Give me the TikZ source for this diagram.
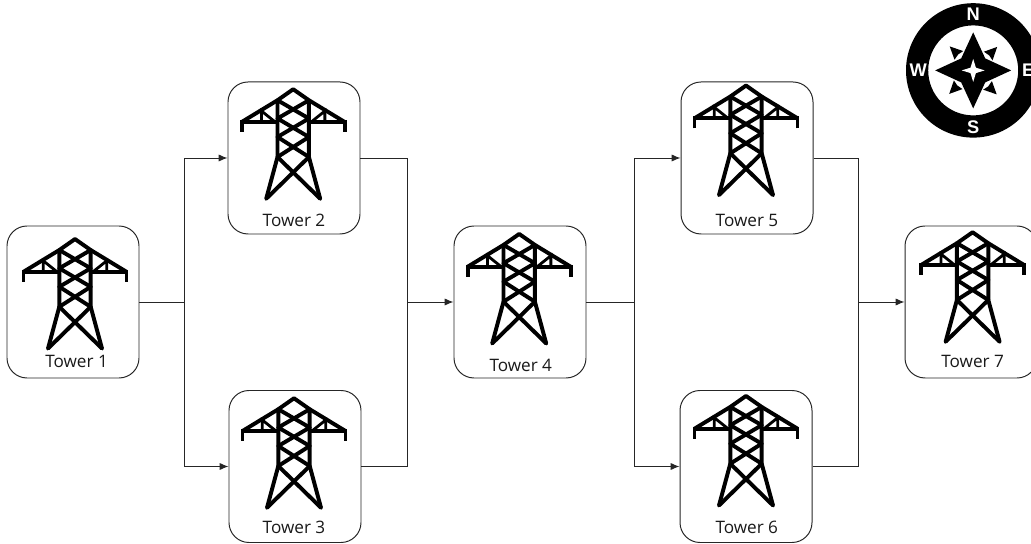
\documentclass[tikz,border=0pt]{standalone}
\usepackage{fontspec}
\setmainfont{Open Sans}
\newfontfamily\compassfont{Liberation Sans}
\usetikzlibrary{arrows.meta}
\tikzset{
	towerbox/.style={draw=black!85, line width=0.7pt, rounded corners=0.5cm, minimum width=3.3cm, minimum height=3.8cm, inner sep=0pt},
	towertext/.style={font=\fontsize{12.2}{14}\selectfont, inner sep=0pt, text=black!90},
	wire/.style={draw=black!85, line width=0.7pt},
	wirearrow/.style={wire, -{Latex[length=2.2mm,width=1.8mm]}},
	compassletter/.style={font=\compassfont\bfseries\fontsize{13}{15}\selectfont, text=white, inner sep=0pt},
	towerline/.style={line width=2.8pt, black, line join=round, x=0.025cm, y=0.025cm},
	towerstrut/.style={line width=2pt, black, x=0.025cm, y=0.025cm},
	towericon/.pic={
		% body and top diamond
		\draw [towerline] (-15.7,-13)--(-15.7,43.75)--(0,54.75)--(15.7,43.75)--(15.7,-13);
		\draw [towerline] (-15.7,43.75)--(15.7,25.5)--(-15.7,7)--(15.7,-13);
		\draw [towerline] (15.7,43.75)--(-15.7,25.5)--(15.7,7)--(-15.7,-13);
		% legs
		\draw [towerline, line cap=round] (-15.7,-13)--(-27,-54.75);
		\draw [towerline, line cap=round] (15.7,-13)--(27,-54.75);
		\draw [towerline, line cap=round] (-15.7,-13)--(27,-54.75);
		\draw [towerline, line cap=round] (15.7,-13)--(-27,-54.75);
		% arms
		\draw [towerline, line join=miter] (-51.5,12)--(-51.5,22)--(-15.7,22);
		\draw [towerline, line join=miter] (51.5,12)--(51.5,22)--(15.7,22);
		\draw [towerline] (-51.5,22)--(-15.7,43.75);
		\draw [towerline] (51.5,22)--(15.7,43.75);
		\draw [towerstrut] (-31.7,22)--(-31.7,33)--(-18,22);
		\draw [towerstrut] (31.7,22)--(31.7,33)--(18,22);
	},
}
\begin{document}
\begin{tikzpicture}
	\useasboundingbox (0,0) rectangle (25.775,13.6);
	% towers: name / centre / icon offset / label offset
	\foreach \n/\cx/\cy/\ix/\iy/\lx/\ly in {
		1/1.825/6.05/0.05/0.205/0.09/-1.49,
		2/7.35/9.65/-0.02/0.35/0/-1.57,
		3/7.375/1.9375/-0.025/0.3375/-0.025/-1.52,
		4/13/6.05/-0.02/0.3325/0.02/-1.59,
		5/18.675/9.65/-0.025/0.4425/0/-1.57,
		6/18.65/1.9375/0/0.395/0.02/-1.52,
		7/24.275/6.05/0.04/0.375/0.04/-1.49} {
		\node [towerbox] (tower\n) at (\cx,\cy) {};
		\pic at ([xshift=\ix cm,yshift=\iy cm]tower\n.center) {towericon};
		\node [towertext] (label\n) at ([xshift=\lx cm,yshift=\ly cm]tower\n.center) {Tower \n};
	}
	% junctions
	\coordinate (split1) at (4.6,6.05);
	\coordinate (join1) at (10.18,6.05);
	\coordinate (split2) at (15.85,6.05);
	\coordinate (join2) at (21.45,6.05);
	\draw [wire] (tower1.east)--(split1);
	\draw [wirearrow] (split1)|-(tower2.west);
	\draw [wirearrow] (split1)|-(tower3.west);
	\draw [wire] (tower2.east)-|(join1);
	\draw [wire] (tower3.east)-|(join1);
	\draw [wirearrow] (join1)--(tower4.west);
	\draw [wire] (tower4.east)--(split2);
	\draw [wirearrow] (split2)|-(tower5.west);
	\draw [wirearrow] (split2)|-(tower6.west);
	\draw [wire] (tower5.east)-|(join2);
	\draw [wire] (tower6.east)-|(join2);
	\draw [wirearrow] (join2)--(tower7.west);
	% compass
	\coordinate (compass) at (24.33,11.84);
	\fill [black, even odd rule] (compass) circle (1.68cm) (compass) circle (1.125cm);
	\begin{scope}[shift={(compass)}, x=0.025cm, y=0.025cm]
		\fill [black] (0,38)--(12,12)--(38,0)--(12,-12)--(0,-38)--(-12,-12)--(-38,0)--(-12,12)--cycle;
		\fill [white] (0,11.5)--(2.7,2.7)--(11.5,0)--(2.7,-2.7)--(0,-11.5)--(-2.7,-2.7)--(-11.5,0)--(-2.7,2.7)--cycle;
		\foreach \r in {0,90,180,270}
			\fill [black, rotate=\r] (24,23.5)--(10.7,18.7)--(16,15)--(19.3,10)--cycle;
	\end{scope}
	\node [compassletter] (north) at ([yshift=1.4cm]compass) {N};
	\node [compassletter] (south) at ([yshift=-1.42cm]compass) {S};
	\node [compassletter] (west) at ([xshift=-1.375cm]compass) {W};
	\node [compassletter] (east) at ([xshift=1.375cm]compass) {E};
\end{tikzpicture}
\end{document}
